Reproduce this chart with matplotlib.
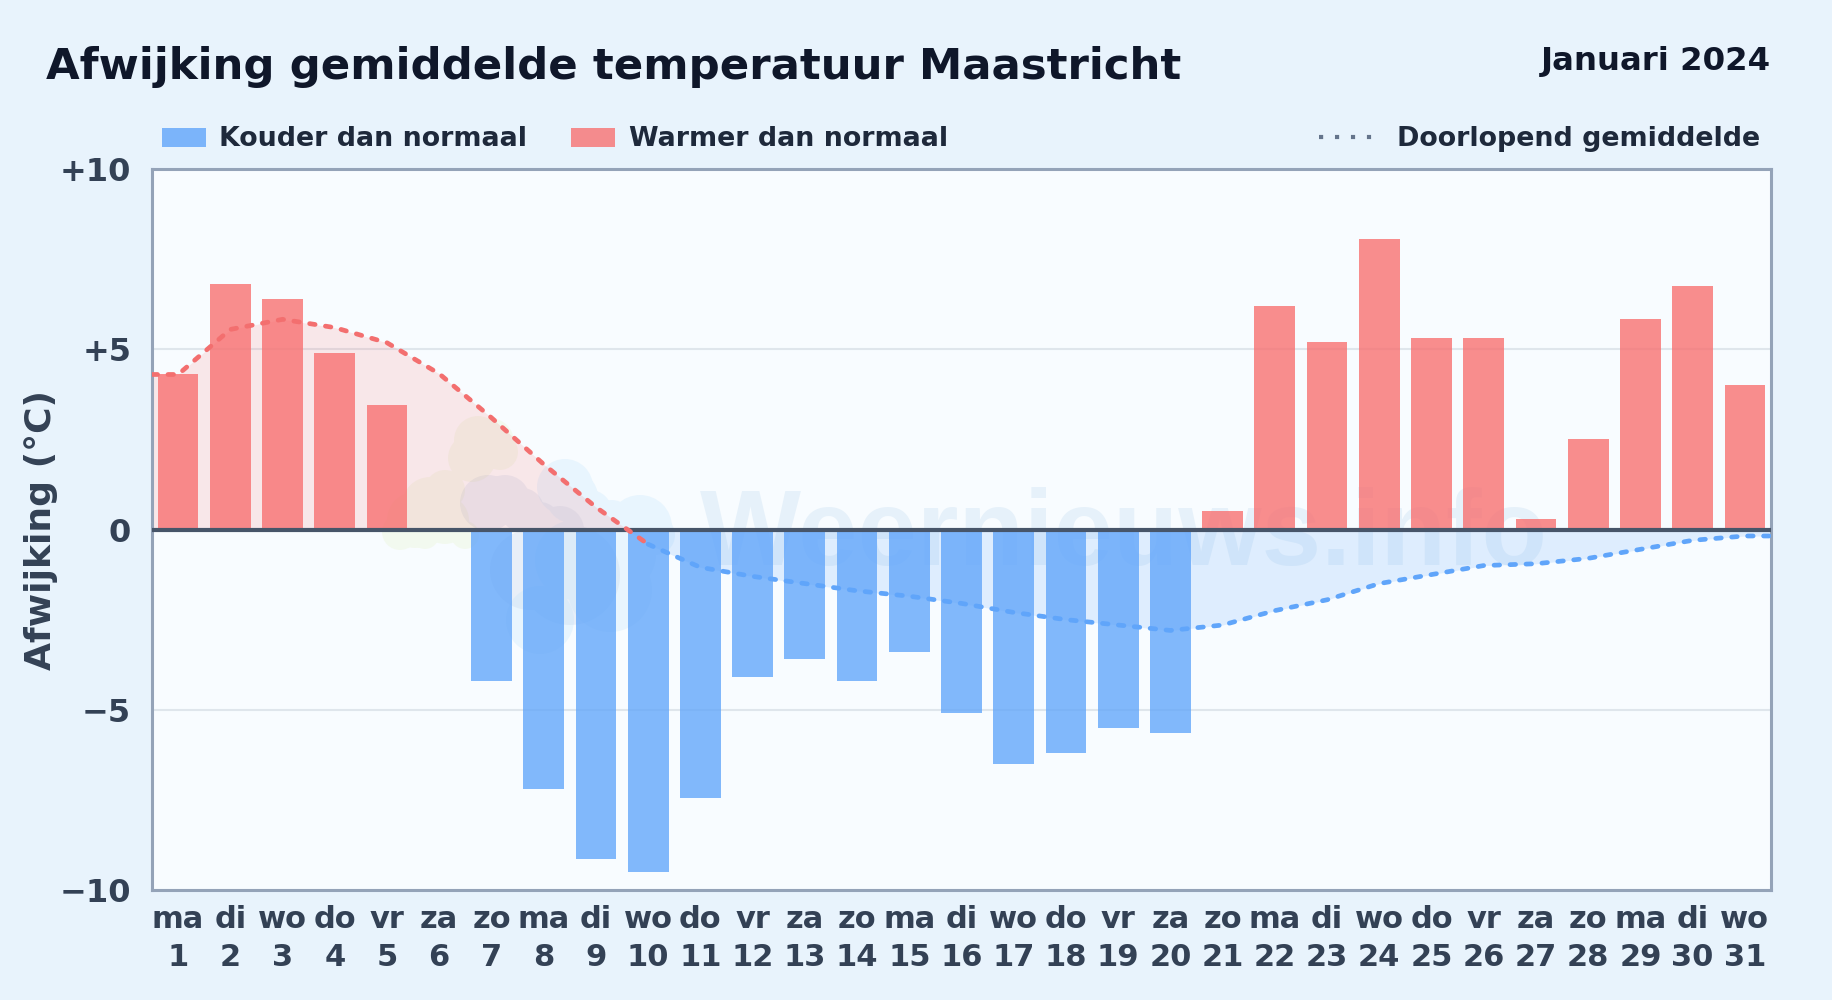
import numpy as np
import matplotlib
matplotlib.use("Agg")
import matplotlib.pyplot as plt
from matplotlib.patches import Patch, PathPatch
from matplotlib.lines import Line2D
from matplotlib.path import Path
from matplotlib.transforms import Affine2D

plt.rcParams['font.family'] = ['DejaVu Sans']
plt.rcParams['lines.scale_dashes'] = False

days = list(range(1, 32))
weekdays = ['ma', 'di', 'wo', 'do', 'vr', 'za', 'zo'] * 4 + ['ma', 'di', 'wo']
deviation = [4.3, 6.8, 6.4, 4.9, 3.45, 0.0, -4.2, -7.2, -9.15, -9.5, -7.45, -4.1, -3.6, -4.2, -3.4, -5.1,
             -6.5, -6.2, -5.5, -5.65, 0.5, 6.2, 5.2, 8.05, 5.3, 5.3, 0.3, 2.5, 5.85, 6.75, 4.0]
running = [4.3, 5.55, 5.83, 5.6, 5.18, 4.32, 3.1, 1.81, 0.62, -0.41, -1.05, -1.3, -1.5, -1.7, -1.85, -2.05,
           -2.3, -2.5, -2.65, -2.8, -2.65, -2.25, -1.95, -1.5, -1.25, -1.0, -0.95, -0.8, -0.55, -0.3, -0.18]
y_ticks = [10, 5, 0, -5, -10]
y_labels = ['+10', '+5', '0', '\u22125', '\u221210']

RED, BLUE = '#f87171', '#60a5fa'
INK, TEXT, TICK = '#0f172a', '#1e293b', '#334155'

W, H = 1832, 1000
fig = plt.figure(figsize=(W / 100, H / 100), dpi=100, facecolor='#e8f3fc')
ax = fig.add_axes([152 / W, 1 - 890 / H, (1771 - 152) / W, (890 - 169) / H], facecolor='#f8fcff')
ax.set_xlim(0.5, 31.5)
ax.set_ylim(-10, 10)
ax.set_axisbelow(True)

# watermark (pixel-positioned decoration)
px = Affine2D().scale(1, -1).translate(0, H)
def blob(circles, color, alpha):
    path = Path.make_compound_path(*[Path.circle((x, y), r) for x, y, r in circles])
    p = PathPatch(path, facecolor=color, edgecolor='none', alpha=alpha, transform=px, zorder=0.5)
    ax.add_patch(p)
    p.set_clip_path(ax.patch)
blob([(478, 440, 24), (490, 442, 24), (500, 452, 18), (472, 458, 24), (445, 490, 20), (430, 505, 28), (415, 520, 28),
      (445, 520, 24), (400, 532, 18), (425, 535, 14), (465, 535, 14)], '#d6ea9a', 0.15)
blob([(488, 503, 28), (505, 500, 25), (522, 510, 22), (540, 522, 20), (560, 530, 24), (530, 570, 40), (570, 575, 50)],
     '#6d8cc4', 0.11)
blob([(565, 487, 28), (572, 497, 26), (590, 512, 22), (612, 520, 20), (640, 527, 32), (655, 535, 20), (610, 590, 42),
      (540, 620, 34), (575, 560, 40), (620, 555, 36)], '#b8e0fb', 0.24)
ax.text(1124, 565, 'Weernieuws.info', transform=px, ha='center', va='baseline', fontsize=77, fontweight='bold',
        family='Liberation Sans', color='#b9d6ee', alpha=0.28, zorder=0.6, clip_on=True)

ax.grid(axis='y', color='#dfe6ec', lw=1.5)
ax.axhline(0, color='#475569', lw=3, zorder=4)

x = np.array(days, float)
vals = np.array(deviation)
ax.bar(x[vals >= 0], vals[vals >= 0], width=0.78, color=RED, alpha=0.8, zorder=2, linewidth=0)
ax.bar(x[vals < 0], vals[vals < 0], width=0.78, color=BLUE, alpha=0.78, zorder=2, linewidth=0)

lx = np.r_[ax.get_xlim()[0], x, ax.get_xlim()[1]]
ly = np.r_[running[0], running, running[-1]]
ax.fill_between(lx, ly, 0, where=ly >= 0, interpolate=True, color=RED, alpha=0.15, lw=0, zorder=1)
ax.fill_between(lx, ly, 0, where=ly <= 0, interpolate=True, color=BLUE, alpha=0.17, lw=0, zorder=1)
dash = (0, (4, 7.5))
split = 10  # index of day 10 in lx
ax.plot(lx[:split + 1], ly[:split + 1], color='#f36f6f', lw=3.4, ls=dash, dash_capstyle='round', zorder=5)
ax.plot(lx[split:], ly[split:], color=BLUE, lw=3.4, ls=dash, dash_capstyle='round', zorder=5)

for s in ax.spines.values():
    s.set_color('#94a3b8')
    s.set_linewidth(2.2)
ax.set_yticks(y_ticks, y_labels, fontsize=23, fontweight='bold', color=TICK)
ax.set_xticks(days, [f'{w}\n{d}' for w, d in zip(weekdays, days)], fontsize=22, fontweight='bold', color=TICK,
              linespacing=1.36)
ax.tick_params(axis='both', length=0)
ax.tick_params(axis='y', pad=15)
ax.tick_params(axis='x', pad=11)

fig.text(41 / W, 1 - 530 / H, 'Afwijking (\u00b0C)', rotation=90, ha='center', va='center', fontsize=26,
         fontweight='bold', color=TICK)
fig.text(46 / W, 1 - 79 / H, 'Afwijking gemiddelde temperatuur Maastricht', ha='left', va='baseline', fontsize=31.3,
         fontweight='bold', color=INK)
fig.text(1771 / W, 1 - 70 / H, 'Januari 2024', ha='right', va='baseline', fontsize=23.3, fontweight='bold', color=INK)

leg1 = ax.legend(handles=[Patch(color=BLUE, alpha=0.8, lw=0, label='Kouder dan normaal'),
                          Patch(color=RED, alpha=0.8, lw=0, label='Warmer dan normaal')],
                 loc='center left', bbox_to_anchor=(162 / W, 1 - 139.5 / H), bbox_transform=fig.transFigure, ncol=2,
                 frameon=False, borderpad=0, borderaxespad=0, handlelength=1.63, handleheight=0.7,
                 handletextpad=0.5, columnspacing=1.63,
                 prop={'size': 19.4, 'weight': 'bold'}, labelcolor=TEXT)
ax.add_artist(leg1)
ax.legend(handles=[Line2D([], [], color='#64748b', lw=3, ls=(0, (3, 8.5)), dash_capstyle='butt',
                          label='Doorlopend gemiddelde')],
          loc='center right', bbox_to_anchor=(1760 / W, 1 - 139.5 / H), bbox_transform=fig.transFigure,
          frameon=False, borderpad=0, borderaxespad=0, handlelength=2.03, handletextpad=0.85,
          prop={'size': 19.4, 'weight': 'bold'}, labelcolor=TEXT)

fig.savefig('out.png', dpi=100, facecolor=fig.get_facecolor())
